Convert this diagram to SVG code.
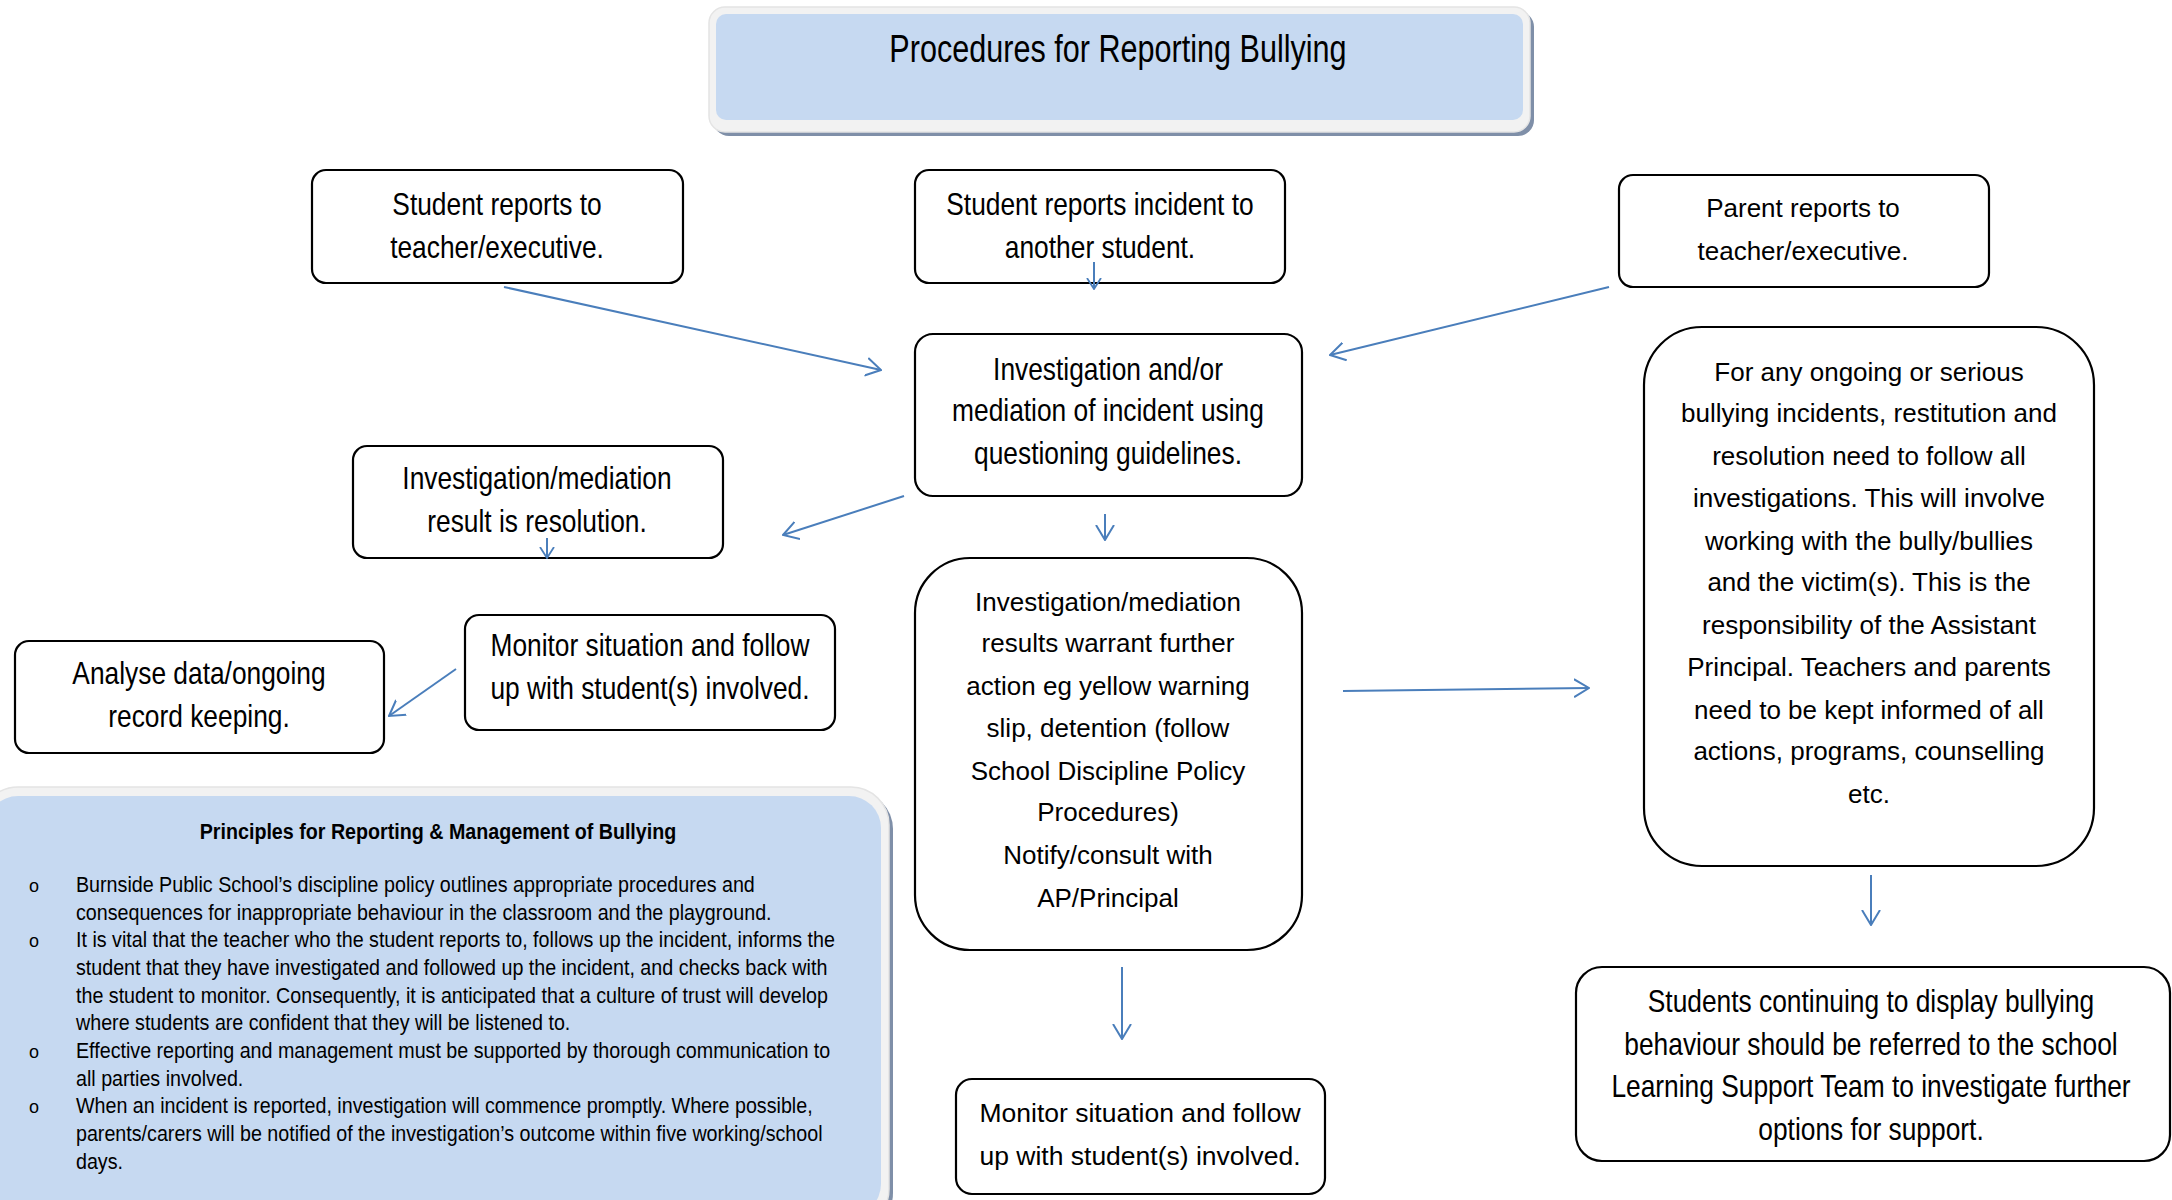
<svg xmlns="http://www.w3.org/2000/svg" width="2172" height="1200" viewBox="0 0 2172 1200">
<style>
.box{fill:#fff;stroke:#000;stroke-width:2.2}
.n{font-family:"Liberation Sans",Arial,sans-serif;font-size:31px;fill:#000;text-anchor:middle}
.r{font-family:"Liberation Sans",Arial,sans-serif;font-size:26px;fill:#000;text-anchor:middle}
.p{font-family:"Liberation Sans",Arial,sans-serif;font-size:22px;fill:#000}
.pt{font-family:"Liberation Sans",Arial,sans-serif;font-size:22px;font-weight:bold;fill:#000;text-anchor:middle}
.bul{font-family:"Liberation Sans",Arial,sans-serif;font-size:18px;fill:#000}
.c{fill:none;stroke:#4a7ebb;stroke-width:2}
</style>
<defs>
<marker id="ah" viewBox="0 0 16 20" refX="15" refY="10" markerWidth="16" markerHeight="20" markerUnits="userSpaceOnUse" orient="auto">
<path d="M0,1 L15,10 L0,19" fill="none" stroke="#4a7ebb" stroke-width="2"/>
</marker>
<marker id="ahs" viewBox="0 0 12 16" refX="11" refY="8" markerWidth="12" markerHeight="16" markerUnits="userSpaceOnUse" orient="auto">
<path d="M0,1 L11,8 L0,15" fill="none" stroke="#4a7ebb" stroke-width="1.8"/>
</marker>
</defs>

<g id="title">
<rect x="713" y="11" width="821" height="125" rx="16" fill="#7f8fa8"/>
<rect x="709" y="7" width="821" height="125" rx="16" fill="#f2f2f2" stroke="#e4e4e4" stroke-width="1.5"/>
<rect x="716" y="14" width="807" height="106" rx="10" fill="#c6d9f1"/>
<g transform="translate(1118 0) scale(0.805 1) translate(-1118 0)">
<text class="n" x="1118" y="62" style="font-size:38px">Procedures for Reporting Bullying</text>
</g>
</g>

<g id="principles">
<rect x="-20" y="791" width="913" height="440" rx="38" fill="#7f8fa8"/>
<rect x="-20" y="787" width="909" height="440" rx="38" fill="#f2f2f2" stroke="#e4e4e4" stroke-width="1.5"/>
<rect x="-14" y="796" width="895" height="420" rx="32" fill="#c6d9f1"/>
<g transform="translate(438 0) scale(0.895 1) translate(-438 0)">
<text class="pt" x="438" y="839">Principles for Reporting &amp; Management of Bullying</text>
</g>
<text class="bul" x="29" y="892">o</text>
<text class="bul" x="29" y="947">o</text>
<text class="bul" x="29" y="1058">o</text>
<text class="bul" x="29" y="1113">o</text>
<g transform="translate(76 0) scale(0.895 1) translate(-76 0)">
<text class="p" x="76" y="892">Burnside Public School’s discipline policy outlines appropriate procedures and</text>
<text class="p" x="76" y="920">consequences for inappropriate behaviour in the classroom and the playground.</text>
<text class="p" x="76" y="947">It is vital that the teacher who the student reports to, follows up the incident, informs the</text>
<text class="p" x="76" y="975">student that they have investigated and followed up the incident, and checks back with</text>
<text class="p" x="76" y="1003">the student to monitor. Consequently, it is anticipated that a culture of trust will develop</text>
<text class="p" x="76" y="1030">where students are confident that they will be listened to.</text>
<text class="p" x="76" y="1058">Effective reporting and management must be supported by thorough communication to</text>
<text class="p" x="76" y="1086">all parties involved.</text>
<text class="p" x="76" y="1113">When an incident is reported, investigation will commence promptly. Where possible,</text>
<text class="p" x="76" y="1141">parents/carers will be notified of the investigation’s outcome within five working/school</text>
<text class="p" x="76" y="1169">days.</text>
</g>
</g>

<g id="student-teacher">
<rect class="box" x="312" y="170" width="371" height="113" rx="14"/>
<g transform="translate(497 0) scale(0.85 1) translate(-497 0)">
<text class="n" x="497" y="215">Student reports to</text>
<text class="n" x="497" y="258">teacher/executive.</text>
</g>
</g>

<g id="student-student">
<rect class="box" x="915" y="170" width="370" height="113" rx="14"/>
<g transform="translate(1100 0) scale(0.85 1) translate(-1100 0)">
<text class="n" x="1100" y="215">Student reports incident to</text>
<text class="n" x="1100" y="258">another student.</text>
</g>
</g>

<g id="parent">
<rect class="box" x="1619" y="175" width="370" height="112" rx="14"/>
<text class="r" x="1803" y="217">Parent reports to</text>
<text class="r" x="1803" y="260">teacher/executive.</text>
</g>

<g id="investigation">
<rect class="box" x="915" y="334" width="387" height="162" rx="18"/>
<g transform="translate(1108 0) scale(0.85 1) translate(-1108 0)">
<text class="n" x="1108" y="380">Investigation and/or</text>
<text class="n" x="1108" y="421">mediation of incident using</text>
<text class="n" x="1108" y="464">questioning guidelines.</text>
</g>
</g>

<g id="resolution">
<rect class="box" x="353" y="446" width="370" height="112" rx="14"/>
<g transform="translate(537 0) scale(0.85 1) translate(-537 0)">
<text class="n" x="537" y="489">Investigation/mediation</text>
<text class="n" x="537" y="532">result is resolution.</text>
</g>
</g>

<g id="monitor-left">
<rect class="box" x="465" y="615" width="370" height="115" rx="14"/>
<g transform="translate(650 0) scale(0.85 1) translate(-650 0)">
<text class="n" x="650" y="656">Monitor situation and follow</text>
<text class="n" x="650" y="699">up with student(s) involved.</text>
</g>
</g>

<g id="analyse">
<rect class="box" x="15" y="641" width="369" height="112" rx="14"/>
<g transform="translate(199 0) scale(0.85 1) translate(-199 0)">
<text class="n" x="199" y="684">Analyse data/ongoing</text>
<text class="n" x="199" y="727">record keeping.</text>
</g>
</g>

<g id="further-action">
<rect class="box" x="915" y="558" width="387" height="392" rx="55"/>
<text class="r" x="1108" y="611">Investigation/mediation</text>
<text class="r" x="1108" y="652">results warrant further</text>
<text class="r" x="1108" y="695">action eg yellow warning</text>
<text class="r" x="1108" y="737">slip, detention (follow</text>
<text class="r" x="1108" y="780">School Discipline Policy</text>
<text class="r" x="1108" y="821">Procedures)</text>
<text class="r" x="1108" y="864">Notify/consult with</text>
<text class="r" x="1108" y="907">AP/Principal</text>
</g>

<g id="serious">
<rect class="box" x="1644" y="327" width="450" height="539" rx="58"/>
<text class="r" x="1869" y="381">For any ongoing or serious</text>
<text class="r" x="1869" y="422">bullying incidents, restitution and</text>
<text class="r" x="1869" y="465">resolution need to follow all</text>
<text class="r" x="1869" y="507">investigations. This will involve</text>
<text class="r" x="1869" y="550">working with the bully/bullies</text>
<text class="r" x="1869" y="591">and the victim(s). This is the</text>
<text class="r" x="1869" y="634">responsibility of the Assistant</text>
<text class="r" x="1869" y="676">Principal. Teachers and parents</text>
<text class="r" x="1869" y="719">need to be kept informed of all</text>
<text class="r" x="1869" y="760">actions, programs, counselling</text>
<text class="r" x="1869" y="803">etc.</text>
</g>

<g id="learning-support">
<rect class="box" x="1576" y="967" width="594" height="194" rx="26"/>
<g transform="translate(1871 0) scale(0.85 1) translate(-1871 0)">
<text class="n" x="1871" y="1012">Students continuing to display bullying</text>
<text class="n" x="1871" y="1055">behaviour should be referred to the school</text>
<text class="n" x="1871" y="1097">Learning Support Team to investigate further</text>
<text class="n" x="1871" y="1140">options for support.</text>
</g>
</g>

<g id="monitor-bottom">
<rect class="box" x="956" y="1079" width="369" height="115" rx="16"/>
<text class="r" x="1140" y="1122" style="font-size:26.5px">Monitor situation and follow</text>
<text class="r" x="1140" y="1165" style="font-size:26.5px">up with student(s) involved.</text>
</g>

<g id="connectors">
<line class="c" x1="504" y1="287" x2="881" y2="370" marker-end="url(#ah)"/>
<line class="c" x1="1094" y1="262" x2="1094" y2="289" marker-end="url(#ahs)"/>
<line class="c" x1="1609" y1="287" x2="1330" y2="355" marker-end="url(#ah)"/>
<line class="c" x1="904" y1="496" x2="783" y2="535" marker-end="url(#ah)"/>
<line class="c" x1="1105" y1="514" x2="1105" y2="540" marker-end="url(#ah)"/>
<line class="c" x1="547" y1="538" x2="547" y2="558" marker-end="url(#ahs)"/>
<line class="c" x1="456" y1="669" x2="389" y2="716" marker-end="url(#ah)"/>
<line class="c" x1="1343" y1="691" x2="1589" y2="688" marker-end="url(#ah)"/>
<line class="c" x1="1122" y1="967" x2="1122" y2="1039" marker-end="url(#ah)"/>
<line class="c" x1="1871" y1="875" x2="1871" y2="925" marker-end="url(#ah)"/>
</g>
</svg>
